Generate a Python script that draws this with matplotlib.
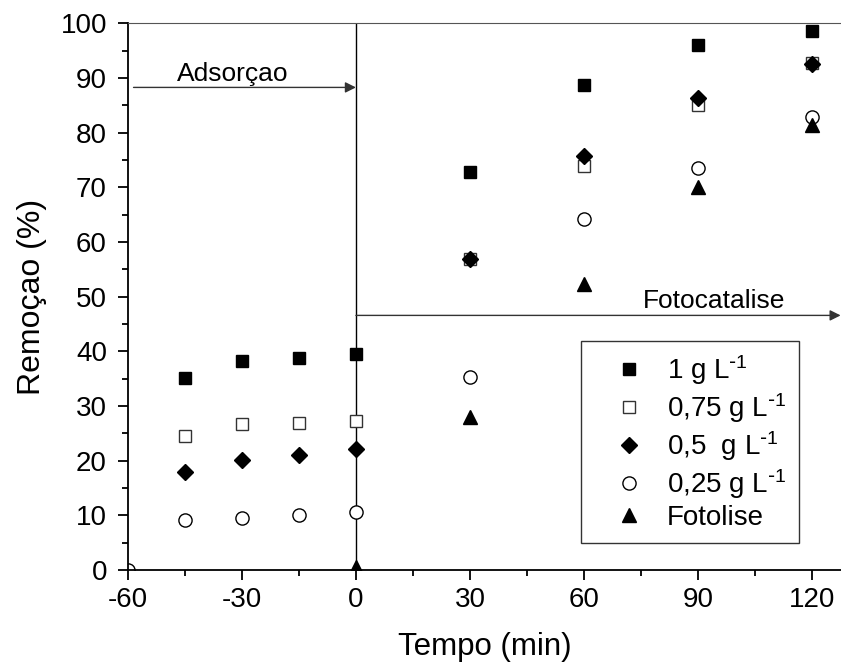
"""
Remoção (%) vs tempo: adsorção no escuro seguida de fotocatálise.
"""
import matplotlib
matplotlib.use("Agg")
import matplotlib.pyplot as plt
from matplotlib.ticker import MultipleLocator

plt.rcParams["font.family"] = ["Liberation Sans", "DejaVu Sans"]
plt.rcParams["mathtext.default"] = "regular"
plt.rcParams["axes.unicode_minus"] = False

# data
tempo = [-45, -30, -15, 0, 30, 60, 90, 120]
rem_1 = [35.1, 38.2, 38.8, 39.5, 72.8, 88.7, 96.0, 98.7]
rem_075 = [24.5, 26.7, 27.0, 27.2, 57.0, 74.0, 85.0, 92.8]
rem_05 = [17.9, 20.1, 21.0, 22.1, 57.0, 75.7, 86.3, 92.5]
tempo_025 = [-60, -45, -30, -15, 0, 30, 60, 90, 120]
rem_025 = [0.0, 9.1, 9.5, 10.1, 10.6, 35.3, 64.3, 73.5, 82.8]
tempo_foto = [0, 30, 60, 90, 120]
rem_foto = [0.5, 28.0, 52.3, 70.0, 81.4]

sup = r"$^{\text{-}1}$"

fig = plt.figure(figsize=(8.41, 6.70), dpi=100)
ax = fig.add_axes([0.152, 0.149, 0.848, 0.816])

ax.plot(tempo, rem_1, ls="none", marker="s", ms=8.5, mfc="black", mec="black",
        label="1 g L" + sup)
ax.plot(tempo, rem_075, ls="none", marker="s", ms=8.5, mfc="white", mec="#333333",
        mew=1.0, label="0,75 g L" + sup)
ax.plot(tempo, rem_05, ls="none", marker="D", ms=8.5, mfc="black", mec="black",
        label="0,5  g L" + sup)
ax.plot(tempo_025, rem_025, ls="none", marker="o", ms=9.5, mfc="white", mec="black",
        mew=1.0, label="0,25 g L" + sup)
ax.plot(tempo_foto, rem_foto, ls="none", marker="^", ms=10.5, mfc="black", mec="black",
        label="Fotolise")

# limite entre as etapas
ax.plot([0, 0], [0, 100], color="black", lw=1.0, zorder=1)

arrow = dict(arrowstyle="-|>", color="#333333", lw=1.0, mutation_scale=16,
             shrinkA=0, shrinkB=0)
ax.annotate("", xy=(0, 88.3), xytext=(-58.5, 88.3), arrowprops=arrow)
ax.text(-32.5, 90.8, "Adsorçao", ha="center", va="center", fontsize=19)
ax.annotate("", xy=(127.5, 46.6), xytext=(0, 46.6), arrowprops=arrow,
            annotation_clip=False)
ax.text(94.2, 49.3, "Fotocatalise", ha="center", va="center", fontsize=19)

ax.set_xlim(-60, 127.6)
ax.set_ylim(0, 100)
ax.xaxis.set_major_locator(MultipleLocator(30))
ax.xaxis.set_minor_locator(MultipleLocator(15))
ax.yaxis.set_major_locator(MultipleLocator(10))
ax.yaxis.set_minor_locator(MultipleLocator(5))
ax.tick_params(which="major", direction="out", length=7, width=1.3, labelsize=20)
ax.tick_params(which="minor", direction="out", length=4, width=1.3)
ax.tick_params(axis="y", which="major", pad=8)
ax.tick_params(axis="x", which="major", pad=5)
ax.spines["right"].set_visible(False)
ax.spines["left"].set_linewidth(1.3)
ax.spines["bottom"].set_linewidth(1.3)
ax.spines["top"].set_color("#555555")

ax.set_xlabel("Tempo (min)", fontsize=22.5, labelpad=14)
ax.set_ylabel("Remoçao (%)", fontsize=23, labelpad=10)

leg = ax.legend(loc="lower left", bbox_to_anchor=(0.635, 0.049), fontsize=20,
                frameon=True, fancybox=False, edgecolor="black",
                handlelength=2.6, handletextpad=0.05, borderpad=0.45,
                labelspacing=0.15, borderaxespad=0)
leg.get_frame().set_linewidth(1.0)

fig.savefig("out.png", dpi=100)
